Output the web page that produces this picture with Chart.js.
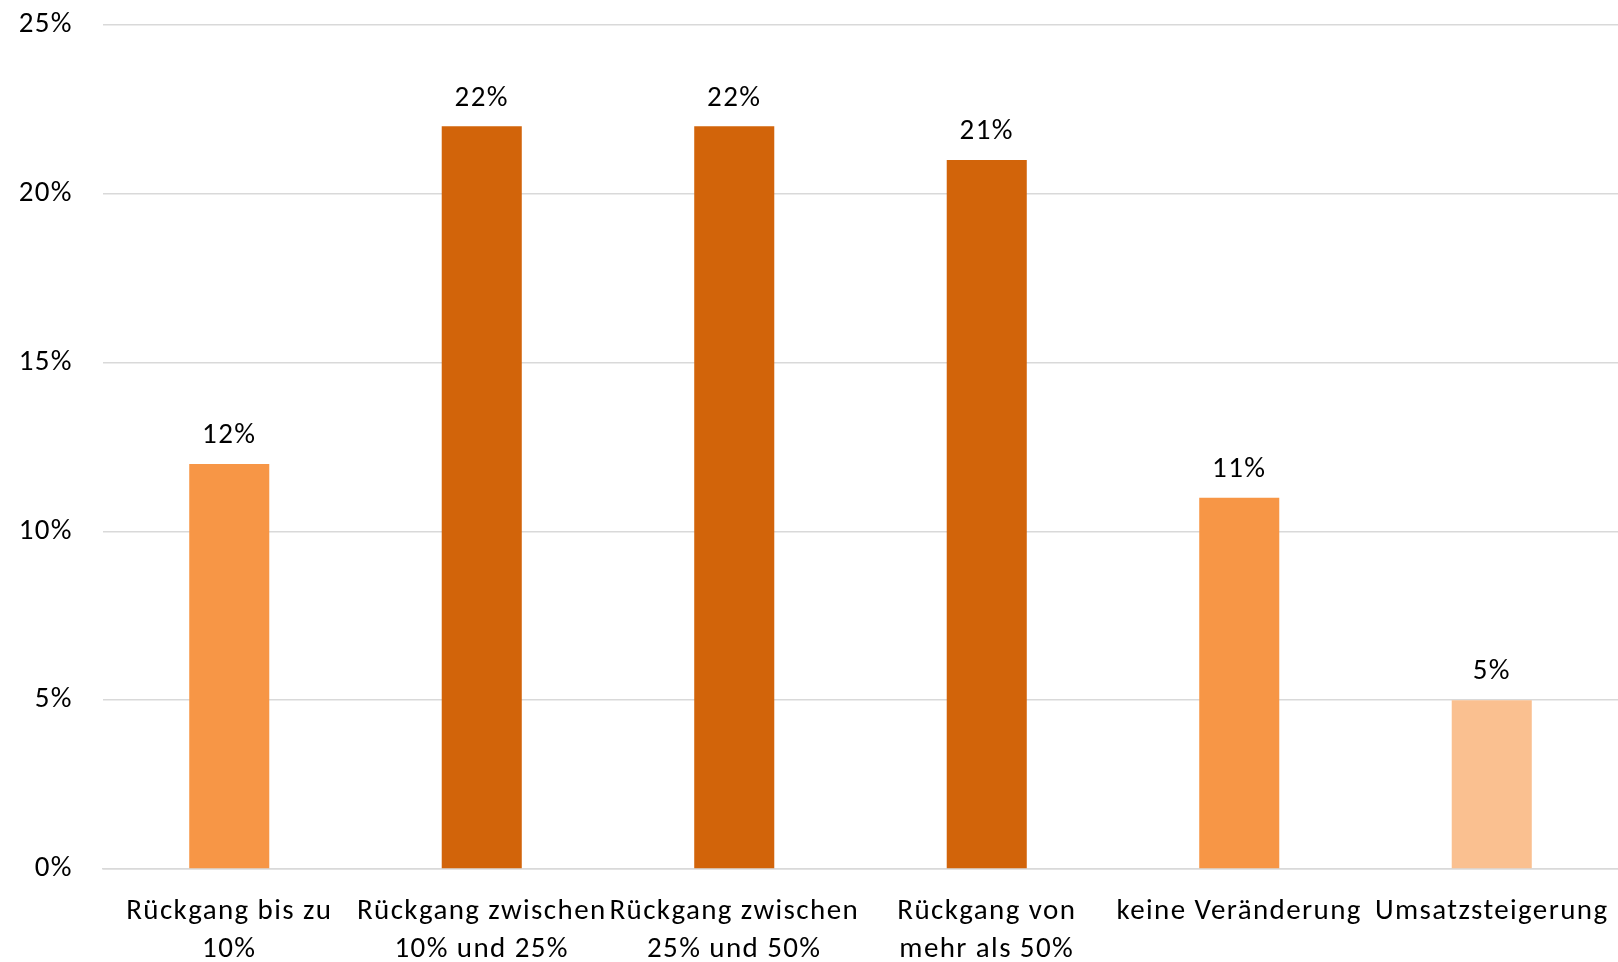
<!DOCTYPE html>
<html>
<head>
<meta charset="utf-8">
<script src="https://cdn.jsdelivr.net/npm/chart.js@4/dist/chart.umd.min.js"></script>
<style>
  html, body { margin: 0; padding: 0; background: #fff; }
  #wrap { width: 1618px; height: 962px; }
</style>
</head>
<body>
<div id="wrap"><canvas id="chart" width="1618" height="962"></canvas></div>
<script>
// Umsatzentwicklung – Anteil der Antworten je Kategorie
const categories = [
  ["Rückgang bis zu", "10%"],
  ["Rückgang zwischen", "10% und 25%"],
  ["Rückgang zwischen", "25% und 50%"],
  ["Rückgang von", "mehr als 50%"],
  "keine Veränderung",
  "Umsatzsteigerung"
];
const shares = [12, 22, 22, 21, 11, 5];
const barColors = ["#F79646", "#D2640A", "#D2640A", "#D2640A", "#F79646", "#FAC090"];
const yTicks = [0, 5, 10, 15, 20, 25];

const FONT = "Carlito, Lato, 'Open Sans', sans-serif";
const SPACING = '1.4px';

// a little extra tracking on all chart text
const tracking = {
  id: 'tracking',
  beforeDraw(chart) { chart.ctx.letterSpacing = SPACING; }
};

// value labels above each bar
const valueLabels = {
  id: 'valueLabels',
  afterDatasetsDraw(chart) {
    const ctx = chart.ctx;
    const meta = chart.getDatasetMeta(0);
    ctx.save();
    ctx.letterSpacing = SPACING;
    ctx.font = `29px ${FONT}`;
    ctx.fillStyle = '#000';
    ctx.textAlign = 'center';
    ctx.textBaseline = 'middle';
    meta.data.forEach((bar, i) => {
      ctx.fillText(shares[i] + '%', bar.x, bar.y - 28);
    });
    ctx.restore();
  }
};

const ctx = document.getElementById('chart').getContext('2d');
new Chart(ctx, {
  type: 'bar',
  data: {
    labels: categories,
    datasets: [{
      data: shares,
      backgroundColor: barColors,
      borderWidth: 0,
      barPercentage: 0.317,
      categoryPercentage: 1
    }]
  },
  options: {
    responsive: false,
    animation: false,
    layout: { padding: { top: 25, right: 0, left: 0, bottom: 0 } },
    plugins: { legend: { display: false }, tooltip: { enabled: false } },
    scales: {
      x: {
        grid: { display: false, drawTicks: false },
        border: { display: true, color: '#d9d9d9', width: 1.5 },
        ticks: {
          color: '#000',
          font: { family: FONT, size: 29, lineHeight: 1.3 },
          padding: 24,
          maxRotation: 0,
          autoSkip: false
        },
        afterFit(scale) {
          scale.height = 93;
          scale.paddingLeft = 0;
          scale.paddingRight = 0;
        }
      },
      y: {
        min: 0,
        max: 25,
        afterBuildTicks(scale) { scale.ticks = yTicks.map(v => ({ value: v })); },
        grid: { color: '#d9d9d9', lineWidth: 1.5, drawTicks: false },
        border: { display: false },
        ticks: {
          color: '#000',
          font: { family: FONT, size: 29 },
          padding: 30,
          callback: v => v + '%'
        },
        afterFit(scale) {
          scale.width = 103;
          scale.paddingTop = 0;
          scale.paddingBottom = 0;
        }
      }
    }
  },
  plugins: [tracking, valueLabels]
});
</script>
</body>
</html>
